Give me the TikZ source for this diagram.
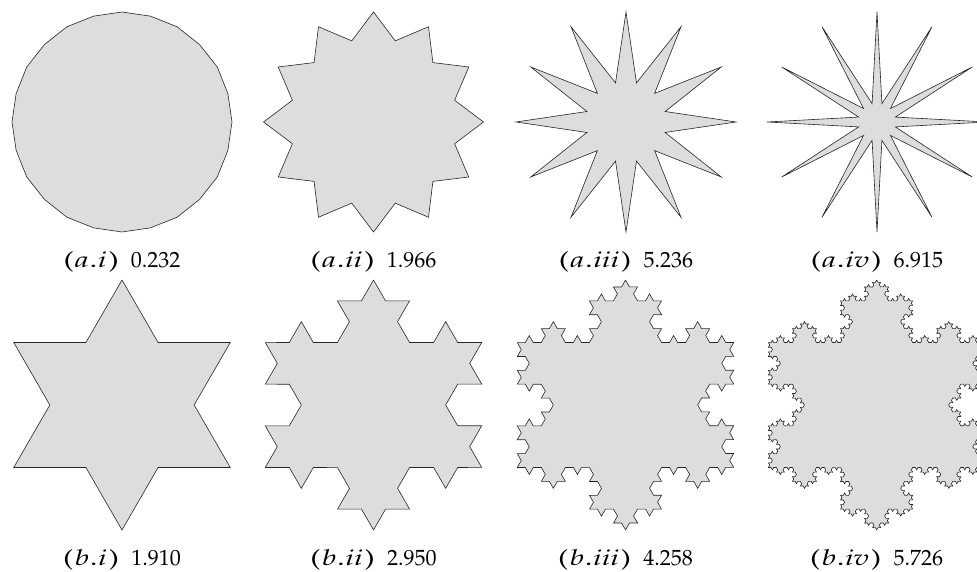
\documentclass[tikz,border=0pt]{standalone}
\usepackage[T1]{fontenc}
\usepackage{mathpazo}
\usepackage{graphicx}
\usepackage{tikz}
\usetikzlibrary{decorations.fractals}

\definecolor{starfill}{RGB}{220,221,223}
\tikzset{
  blob/.style={fill=starfill, draw=black!85, line width=0.6pt},
  capt/.style={anchor=base, inner sep=0pt, font=\fontsize{22}{26}\selectfont}
}
\newcommand{\figlab}[3]{\scalebox{1.4}[1]{(\kern1pt\textit{#1}\kern0.5pt.\kern0.5pt\textit{#2}\kern1.5pt)}\hspace{0.55em}#3}

\begin{document}
\begin{tikzpicture}[x=1pt, y=1pt]
\useasboundingbox (0,0) rectangle (977,572);
%%%%% Row a: twelve-pointed stars %%%%%
\foreach \cx/\rin/\nm/\val in {122/109.6/i/0.232, 373.5/84/ii/1.966, 626/40.5/iii/5.236, 877/19/iv/6.915}{
  \begin{scope}[shift={(\cx,450)}]
    \filldraw[blob] (90:110) \foreach \k in {0,...,10}{ -- ({105+30*\k}:\rin) -- ({120+30*\k}:110) } -- (75:\rin) -- cycle;
  \end{scope}
  \node[capt] (a-\nm) at (\cx,304.3) {\figlab{a}{\nm}{\val}};
}
%%%%% Row b: Koch snowflake steps %%%%%
\begin{scope}[shift={(122,167)}]
\filldraw[blob, decoration=Koch snowflake] decorate{(90:125) -- (330:125) -- (210:125) -- cycle};
\end{scope}
\begin{scope}[shift={(373.5,167)}]
\filldraw[blob, decoration=Koch snowflake] decorate{decorate{(90:125) -- (330:125) -- (210:125) -- cycle}};
\end{scope}
\begin{scope}[shift={(625.5,167)}]
\filldraw[blob, decoration=Koch snowflake] decorate{decorate{decorate{(90:125) -- (330:125) -- (210:125) -- cycle}}};
\end{scope}
\begin{scope}[shift={(876.6,167)}]
\filldraw[blob, decoration=Koch snowflake] decorate{decorate{decorate{decorate{(90:125) -- (330:125) -- (210:125) -- cycle}}}};
\end{scope}
% \draw[red] (0,0) rectangle (977,572);
\node[capt] (b-i) at (122,6.5) {\figlab{b}{i}{1.910}};
\node[capt] (b-ii) at (373.5,6.5) {\figlab{b}{ii}{2.950}};
\node[capt] (b-iii) at (625.5,6.5) {\figlab{b}{iii}{4.258}};
\node[capt] (b-iv) at (876.6,6.5) {\figlab{b}{iv}{5.726}};
\end{tikzpicture}
\end{document}
